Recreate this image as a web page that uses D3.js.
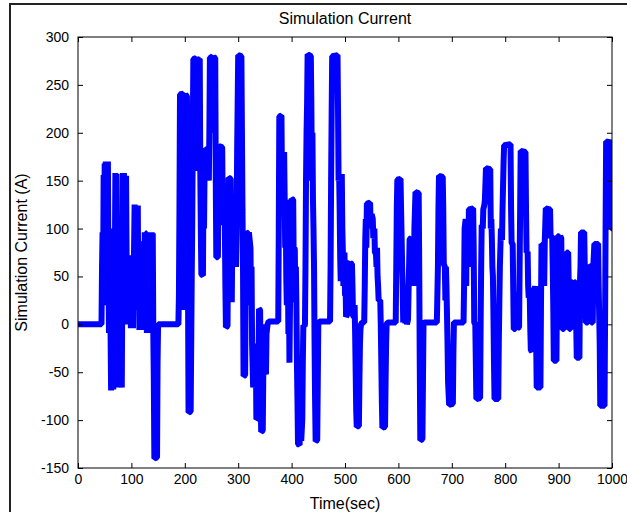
<!DOCTYPE html>
<html>
<head>
<meta charset="utf-8">
<script src="https://cdn.jsdelivr.net/npm/d3@7"></script>
<style>
  body { margin: 0; background: #fff; }
  svg text { font-family: "Liberation Sans", Arial, sans-serif; fill: #000; }
</style>
</head>
<body>
<div id="container"></div>
<script>
// x ticks / y ticks
let xTicks = [0, 100, 200, 300, 400, 500, 600, 700, 800, 900, 1000];
let yTicks = [-150, -100, -50, 0, 50, 100, 150, 200, 250, 300];

// [time (sec), current (A)] estimated from the reference trace
let samples = [
  [0,0],[44,0],[45,60],[46,96],[47,40],[48,156],[49,100],[50,168],[51,60],[52,170],[53,100],[54,170],[55,20],[56,170],[57,60],
  [58,-9],[59,50],[60,100],[61,-10],[62,-69],[63,-20],[64,-68],[65,40],[66,-68],[67,60],[68,-50],[69,60],[70,158],[71,80],[72,157],
  [73,30],[74,90],[75,-66],[76,20],[77,-66],[78,60],[79,-66],[80,80],[81,-60],[82,-66],[83,40],[84,158],[85,60],[86,158],[87,100],
  [88,155],[89,0],[90,155],[91,72],[92,20],[93,0],[94,72],[95,10],[96,71],[97,20],[98,72],[99,-4],[100,60],[101,-4],[102,50],
  [103,-4],[104,50],[105,80],[106,125],[107,60],[108,124],[109,30],[110,124],[111,15],[112,124],[113,15],[114,80],[115,-6],[116,40],
  [117,85],[118,20],[119,84],[120,84],[121,-6],[122,50],[123,60],[124,30],[125,96],[126,-5],[127,95],[128,95],[129,-9],[130,60],
  [131,40],[132,96],[133,-9],[134,90],[135,-9],[136,95],[137,0],[138,96],[139,-9],[140,95],[141,-9],[142,-60],[143,-140],[148,-139],
  [149,-40],[150,0],[188,0],
  [189,30],[190,120],[191,240],[197,241],[198,100],[199,15],[200,120],[201,240],[204,238],[205,110],[206,40],[207,-92],[211,-91],[212,-20],
  [213,50],[214,110],[215,200],[216,277],[221,278],[222,160],[223,276],[228,277],[229,160],[230,100],[231,52],[234,51],[235,150],[236,100],
  [237,160],[238,183],[244,182],[245,150],[246,200],[247,278],[252,280],[253,200],[254,279],[257,278],[258,150],[259,70],[262,70],[263,150],
  [264,186],[270,185],[271,120],[272,106],[275,105],[276,40],[277,-3],[280,-2],[281,80],[282,153],[286,152],[287,60],[288,23],[289,100],
  [290,115],[293,114],[294,80],[295,100],[296,60],[297,100],[298,180],[299,230],[300,281],[306,280],[307,200],[308,120],[309,60],[310,-54],
  [313,-53],[314,40],[315,96],[318,95],[319,50],[320,96],[323,80],[324,20],[325,60],[326,-20],[328,-66],[330,-30],[331,-66],[333,-20],
  [334,-99],[337,-98],[338,-40],[339,16],[341,15],[342,-50],[343,-112],[346,-111],[347,-50],[348,-20],[349,0],[350,-50],[352,-52],[353,-10],
  [355,0],[357,3],[375,3],
  [376,100],[377,217],[381,218],[382,150],[383,133],[385,130],[386,180],[387,133],[388,80],[389,130],[390,50],[391,20],[392,100],[393,60],
  [394,-10],[395,40],[396,-40],[397,20],[398,60],[399,100],[400,131],[403,130],[404,60],[405,80],[406,78],[407,23],[408,60],[409,20],
  [410,-40],[411,-80],[412,-125],[415,-126],[416,-60],[417,-100],[418,-122],[420,-100],[421,-40],[422,-1],[424,-2],[425,0],[426,60],
  [427,150],[428,200],[429,230],[430,282],[436,280],[437,230],[438,150],[439,200],[440,130],[441,100],[442,60],[443,-20],[444,-80],
  [445,-122],[448,-121],[449,-60],[450,0],[452,3],[472,3],[473,60],[474,150],[475,220],[476,280],[486,281],[487,220],[488,150],[489,157],
  [490,120],[491,70],[492,45],[493,75],[494,157],[495,100],[496,75],[497,40],[499,75],[500,30],[501,45],[502,8],[504,10],[505,40],
  [506,64],[508,65],[509,30],[510,64],[513,63],[514,40],[515,9],[517,8],[518,20],[519,-10],[520,-50],[521,-90],[522,-107],[526,-106],
  [527,-60],[528,-20],[529,-5],[530,0],[532,2],[536,2],[537,40],[538,90],[539,110],[540,80],[541,126],[547,127],[548,100],[549,110],
  [550,115],[552,110],[553,90],[555,100],[556,75],[558,74],[559,60],[560,80],[561,50],[562,40],[563,25],[566,25],[567,0],[568,-40],
  [569,-80],[570,-108],[575,-107],[576,-60],[577,-20],[578,0],[580,2],[595,2],
  [596,60],[597,120],[598,151],[604,152],[605,120],[606,92],[607,60],[608,40],[609,2],[610,40],[611,5],[613,2],[614,30],[616,0],
  [618,5],[620,60],[621,89],[624,90],[625,60],[626,91],[628,80],[629,40],[630,100],[632,138],[638,137],[639,60],[640,-40],[641,-121],
  [645,-120],[646,-60],[647,0],[648,2],[672,2],[674,60],[675,120],[676,155],[683,154],[684,120],[685,63],[687,60],[688,25],[689,60],
  [690,40],[691,10],[692,-20],[693,-60],[695,-84],[702,-83],[703,-30],[704,2],[722,2],[723,40],[724,100],[726,110],[727,40],[728,106],
  [730,100],[731,60],[732,120],[740,121],[741,80],[742,2],[744,0],[745,-40],[746,-78],[753,-77],[754,0],[755,60],[756,104],[758,100],
  [759,120],[761,125],[762,130],[764,163],[772,162],[773,100],[774,110],[775,90],[776,60],[777,50],[778,10],[779,-40],[780,-78],
  [787,-78],[788,-20],[789,20],[790,60],[792,100],[794,88],[795,120],[797,170],[798,187],[810,188],[811,120],[812,85],[814,84],
  [815,40],[816,-5],[819,-5],[820,33],[822,30],[823,-4],[826,-3],[827,60],[828,120],[829,181],[838,180],[839,120],[840,75],[842,76],
  [843,40],[844,28],[846,30],[847,-5],[848,-27],[850,-28],[851,35],[853,36],[854,0],[855,35],[856,40],[858,-20],[859,-66],[866,-66],
  [867,20],[868,84],[869,44],[870,84],[872,84],[873,40],[874,84],[876,121],[884,120],[885,90],[886,92],[888,92],[889,60],[890,20],
  [891,-38],[896,-38],[897,40],[898,92],[901,92],[902,60],[903,92],[905,90],[906,20],[907,-5],[910,-5],[911,40],[912,60],[914,60],
  [915,75],[918,75],[919,40],[920,-5],[922,-5],[923,40],[924,44],[926,44],[927,0],[928,-5],[930,44],[932,44],[933,0],[934,-35],
  [939,-35],[940,44],[941,60],[942,96],[948,96],[949,60],[950,30],[951,2],[955,2],[956,61],[959,60],[960,20],[961,2],[964,2],
  [965,61],[967,84],[974,84],[975,40],[977,-20],[978,-85],[986,-85],[987,0],[988,100],[989,191],[998,190],[999,100],[1000,100]
];

let w = 627;
let h = 512;
let mLeft = 78, mRight = 612, mTop = 37, mBottom = 468;

let viz = d3.select("#container").append("svg")
    .attr("width", w)
    .attr("height", h)
    .style("background-color", "white")
;

// frame of the copied figure
viz.append("path")
    .attr("d", "M10," + h + " L10,4 L" + w + ",4")
    .attr("fill", "none")
    .attr("stroke", "#222")
    .attr("stroke-width", 2);

let x = d3.scaleLinear().domain([0, 1000]).range([mLeft, mRight]);
let y = d3.scaleLinear().domain([-150, 300]).range([mBottom, mTop]);

viz.append("defs").append("clipPath").attr("id", "plotclip")
  .append("rect")
    .attr("x", mLeft).attr("y", mTop)
    .attr("width", mRight - mLeft).attr("height", mBottom - mTop);

// trace
let lineMaker = d3.line()
    .x(d => x(d[0]))
    .y(d => y(d[1]));

viz.append("path")
    .datum(samples)
    .attr("clip-path", "url(#plotclip)")
    .attr("d", lineMaker)
    .attr("fill", "none")
    .attr("stroke", "#0000ff")
    .attr("stroke-width", 6)
    .attr("stroke-linejoin", "bevel");

// axes, ticks pointing inward like matlab
let plainNum = d => String(d);
viz.append("g")
    .attr("transform", "translate(0," + mBottom + ")")
    .call(d3.axisBottom(x).tickValues(xTicks).tickFormat(plainNum).tickSizeInner(-5).tickSizeOuter(0).tickPadding(6));
viz.append("g")
    .attr("transform", "translate(" + mLeft + ",0)")
    .call(d3.axisLeft(y).tickValues(yTicks).tickFormat(plainNum).tickSizeInner(-5).tickSizeOuter(0).tickPadding(9));
viz.append("g")
    .attr("transform", "translate(0," + mTop + ")")
    .call(d3.axisTop(x).tickValues(xTicks).tickSizeInner(-5).tickSizeOuter(0).tickFormat(""));
viz.append("g")
    .attr("transform", "translate(" + mRight + ",0)")
    .call(d3.axisRight(y).tickValues(yTicks).tickSizeInner(-5).tickSizeOuter(0).tickFormat(""));

viz.selectAll(".domain").remove();
viz.selectAll(".tick line").attr("stroke", "#000");
viz.selectAll(".tick text").style("font-size", "14px").attr("fill", "#000");

viz.append("rect")
    .attr("x", mLeft).attr("y", mTop)
    .attr("width", mRight - mLeft).attr("height", mBottom - mTop)
    .attr("fill", "none")
    .attr("stroke", "#000")
    .attr("stroke-width", 1);

// titles
viz.append("text")
    .attr("x", (mLeft + mRight) / 2)
    .attr("y", 24)
    .attr("text-anchor", "middle")
    .style("font-size", "16px")
    .text("Simulation Current");

viz.append("text")
    .attr("x", (mLeft + mRight) / 2)
    .attr("y", 509)
    .attr("text-anchor", "middle")
    .style("font-size", "16px")
    .text("Time(sec)");

viz.append("text")
    .attr("transform", "translate(27," + ((mTop + mBottom) / 2) + ") rotate(-90)")
    .attr("text-anchor", "middle")
    .style("font-size", "16px")
    .text("Simulation Current (A)");
</script>
</body>
</html>
